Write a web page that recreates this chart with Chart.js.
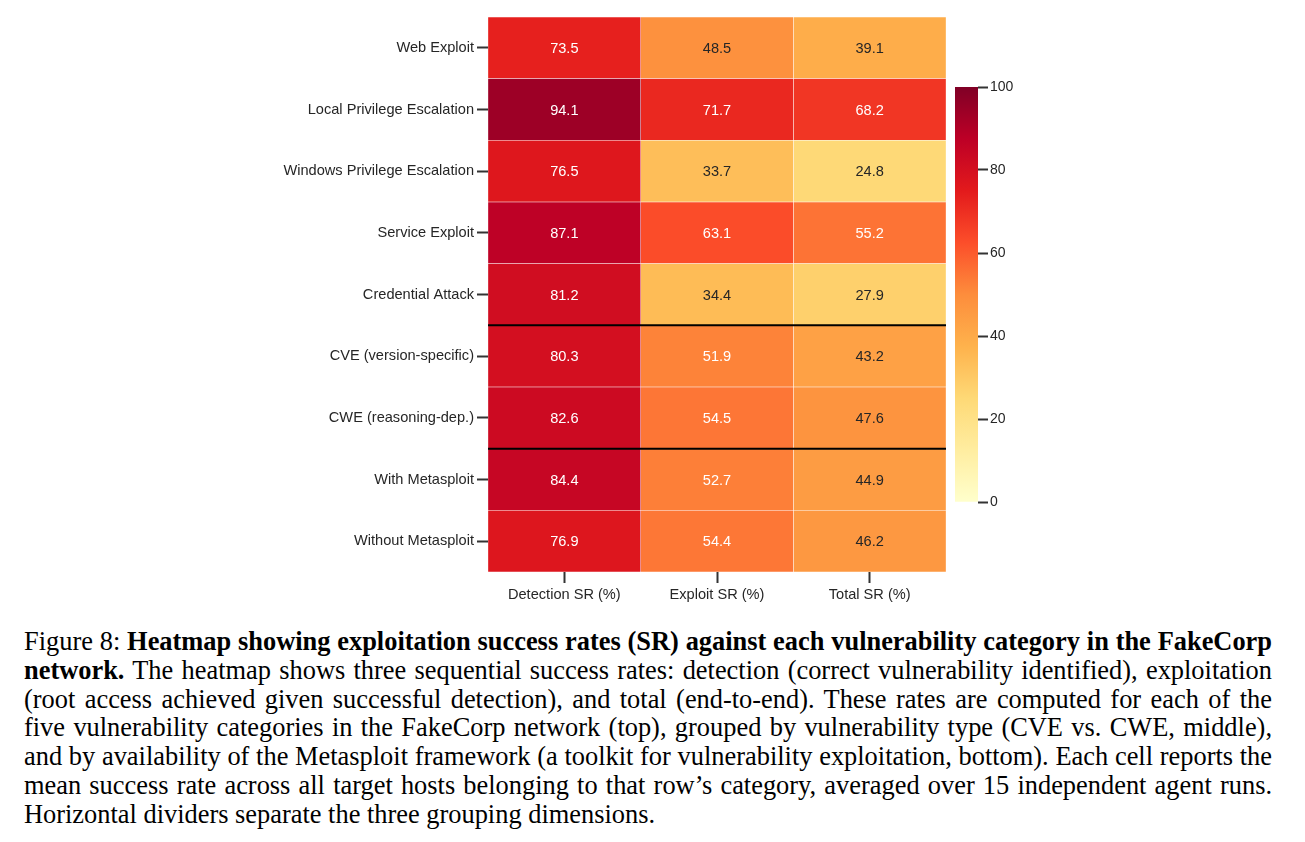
<!DOCTYPE html>
<html>
<head>
<meta charset="utf-8">
<script src="https://cdn.jsdelivr.net/npm/chart.js@4.4.0/dist/chart.umd.min.js"></script>
<style>
    html, body { margin: 0; padding: 0; background: #fff; }
    body { width: 1305px; height: 842px; position: relative; overflow: hidden; }
    #heat-wrap { position: absolute; left: 0; top: 0; width: 950px; height: 610px; }
    #bar-wrap { position: absolute; left: 945px; top: 70px; width: 90px; height: 450px; }
    #caption {
        position: absolute; left: 24px; top: 627px; width: 1248px;
        font-family: "Times New Roman", "Liberation Serif", serif;
        font-size: 26.4px; line-height: 28.8px; color: #000;
    }
    #caption .ln { text-align: justify; text-align-last: justify; white-space: nowrap; }
    #caption .ln.last { text-align-last: left; }
</style>
</head>
<body>
<div id="heat-wrap"><canvas id="heatmap"></canvas></div>
<div id="bar-wrap"><canvas id="colorbar"></canvas></div>
<div id="caption">
    <div class="ln">Figure 8: <b>Heatmap showing exploitation success rates (SR) against each vulnerability category in the FakeCorp</b></div>
    <div class="ln"><b>network.</b> The heatmap shows three sequential success rates: detection (correct vulnerability identified), exploitation</div>
    <div class="ln">(root access achieved given successful detection), and total (end-to-end). These rates are computed for each of the</div>
    <div class="ln">five vulnerability categories in the FakeCorp network (top), grouped by vulnerability type (CVE vs. CWE, middle),</div>
    <div class="ln">and by availability of the Metasploit framework (a toolkit for vulnerability exploitation, bottom). Each cell reports the</div>
    <div class="ln">mean success rate across all target hosts belonging to that row’s category, averaged over 15 independent agent runs.</div>
    <div class="ln last">Horizontal dividers separate the three grouping dimensions.</div>
</div>
<script>
const rowLabels = [
    'Web Exploit',
    'Local Privilege Escalation',
    'Windows Privilege Escalation',
    'Service Exploit',
    'Credential Attack',
    'CVE (version-specific)',
    'CWE (reasoning-dep.)',
    'With Metasploit',
    'Without Metasploit'
];
const colLabels = ['Detection SR (%)', 'Exploit SR (%)', 'Total SR (%)'];
const detectionSR = [73.5, 94.1, 76.5, 87.1, 81.2, 80.3, 82.6, 84.4, 76.9];
const exploitSR = [48.5, 71.7, 33.7, 63.1, 34.4, 51.9, 54.5, 52.7, 54.4];
const totalSR = [39.1, 68.2, 24.8, 55.2, 27.9, 43.2, 47.6, 44.9, 46.2];
const dividerAfter = [4, 6];
const colorbarTicks = [0, 20, 40, 60, 80, 100];

// matplotlib YlOrRd
const ylOrRd = ['#ffffcc', '#ffeda0', '#fed976', '#feb24c', '#fd8d3c', '#fc4e2a', '#e31a1c', '#bd0026', '#800026'];
const vmin = 0;
const vmax = 100;

Chart.defaults.font.family = 'Arial, "Liberation Sans", Helvetica, sans-serif';
Chart.defaults.color = '#262626';

function hexToRgb(hex) {
    const n = parseInt(hex.slice(1), 16);
    return [(n >> 16) & 255, (n >> 8) & 255, n & 255];
}

function colorRgb(value) {
    const t = Math.min(1, Math.max(0, (value - vmin) / (vmax - vmin))) * (ylOrRd.length - 1);
    const i = Math.min(ylOrRd.length - 2, Math.floor(t));
    const f = t - i;
    const a = hexToRgb(ylOrRd[i]);
    const b = hexToRgb(ylOrRd[i + 1]);
    return a.map((c, k) => Math.round(c + (b[k] - c) * f));
}

function colorFor(value) {
    const [r, g, b] = colorRgb(value);
    return `rgb(${r}, ${g}, ${b})`;
}

function textColorFor(value) {
    const lin = colorRgb(value).map(c => {
        c /= 255;
        return c <= 0.03928 ? c / 12.92 : Math.pow((c + 0.055) / 1.055, 2.4);
    });
    const lum = 0.2126 * lin[0] + 0.7152 * lin[1] + 0.0722 * lin[2];
    return lum > 0.408 ? '#262626' : '#ffffff';
}

const columns = [detectionSR, exploitSR, totalSR];

const datasets = columns.map((values, c) => ({
    label: colLabels[c],
    data: values.map(() => [c, c + 1]),
    values: values,
    backgroundColor: values.map(colorFor),
    borderColor: '#ffffff',
    borderWidth: 0.5,
    borderSkipped: false,
    grouped: false,
    barPercentage: 1,
    categoryPercentage: 1
}));

const cellLabels = {
    id: 'cellLabels',
    afterDatasetsDraw(chart) {
        const ctx = chart.ctx;
        ctx.save();
        ctx.font = '14.6px Arial, "Liberation Sans", sans-serif';
        ctx.textAlign = 'center';
        ctx.textBaseline = 'middle';
        chart.data.datasets.forEach((ds, di) => {
            const meta = chart.getDatasetMeta(di);
            meta.data.forEach((el, i) => {
                const { x, y, base } = el.getProps(['x', 'y', 'base'], true);
                ctx.fillStyle = textColorFor(ds.values[i]);
                ctx.fillText(ds.values[i].toFixed(1), (x + base) / 2, y + 1);
            });
        });
        ctx.restore();
    }
};

const groupDividers = {
    id: 'groupDividers',
    afterDatasetsDraw(chart) {
        const ctx = chart.ctx;
        const yScale = chart.scales.y;
        const area = chart.chartArea;
        ctx.save();
        ctx.strokeStyle = '#000000';
        ctx.lineWidth = 2;
        dividerAfter.forEach(r => {
            const yPos = (yScale.getPixelForValue(r) + yScale.getPixelForValue(r + 1)) / 2;
            ctx.beginPath();
            ctx.moveTo(area.left, yPos);
            ctx.lineTo(area.right, yPos);
            ctx.stroke();
        });
        ctx.restore();
    }
};

new Chart(document.getElementById('heatmap'), {
    type: 'bar',
    data: {
        labels: rowLabels,
        datasets: datasets
    },
    options: {
        indexAxis: 'y',
        responsive: true,
        maintainAspectRatio: false,
        animation: false,
        layout: { padding: { top: 17, right: 4, left: 0, bottom: 0 } },
        plugins: {
            legend: { display: false },
            tooltip: { enabled: false }
        },
        scales: {
            x: {
                type: 'linear',
                min: 0,
                max: 3,
                afterBuildTicks(scale) {
                    scale.ticks = colLabels.map((_, c) => ({ value: c + 0.5 }));
                },
                afterFit(scale) {
                    scale.height = 38;
                },
                ticks: {
                    autoSkip: false,
                    maxRotation: 0,
                    padding: 3,
                    font: { size: 14.6 },
                    color: '#262626',
                    callback: (value) => colLabels[Math.floor(value)]
                },
                grid: {
                    drawOnChartArea: false,
                    drawTicks: true,
                    tickLength: 11,
                    tickColor: '#333333',
                    tickWidth: 2
                },
                border: { display: false }
            },
            y: {
                type: 'category',
                afterFit(scale) {
                    scale.width = 488;
                },
                ticks: {
                    autoSkip: false,
                    padding: 3,
                    font: { size: 14.6 },
                    color: '#262626'
                },
                grid: {
                    offset: false,
                    drawOnChartArea: false,
                    drawTicks: true,
                    tickLength: 11,
                    tickColor: '#333333',
                    tickWidth: 2
                },
                border: { display: false }
            }
        }
    },
    plugins: [cellLabels, groupDividers]
});

new Chart(document.getElementById('colorbar'), {
    type: 'bar',
    data: {
        labels: ['scale'],
        datasets: [{
            data: [[vmin, vmax]],
            backgroundColor(context) {
                const area = context.chart.chartArea;
                if (!area) {
                    return ylOrRd[4];
                }
                const g = context.chart.ctx.createLinearGradient(0, area.bottom, 0, area.top);
                ylOrRd.forEach((c, i) => g.addColorStop(i / (ylOrRd.length - 1), c));
                return g;
            },
            borderWidth: 0,
            barPercentage: 1,
            categoryPercentage: 1
        }]
    },
    options: {
        responsive: true,
        maintainAspectRatio: false,
        animation: false,
        layout: { padding: { top: 17, bottom: 18, left: 10, right: 0 } },
        plugins: {
            legend: { display: false },
            tooltip: { enabled: false }
        },
        scales: {
            x: { display: false },
            y: {
                position: 'right',
                min: vmin,
                max: vmax,
                afterBuildTicks(scale) {
                    scale.ticks = colorbarTicks.map(v => ({ value: v }));
                },
                afterFit(scale) {
                    scale.width = 57;
                },
                ticks: {
                    padding: 2,
                    font: { size: 14 },
                    color: '#262626'
                },
                grid: {
                    drawOnChartArea: false,
                    drawTicks: true,
                    tickLength: 10,
                    tickColor: '#333333',
                    tickWidth: 2
                },
                border: { display: false }
            }
        }
    }
});
</script>
</body>
</html>
